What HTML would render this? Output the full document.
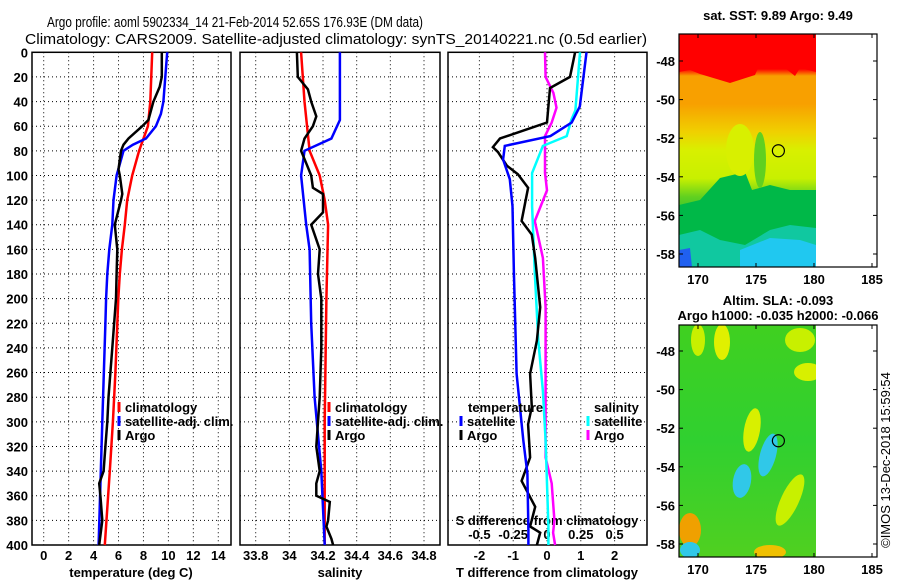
<!DOCTYPE html>
<html><head><meta charset="utf-8"><style>
body{margin:0;background:#fff}
svg{display:block;font-family:"Liberation Sans",Arial,sans-serif}
text{font-weight:bold;font-size:13px;fill:#000}
</style></head><body>
<svg id="fig" width="900" height="580" viewBox="0 0 900 580">
<text transform="translate(47,27) scale(0.8,1)" x="0" y="0" textLength="470" lengthAdjust="spacingAndGlyphs" style="font-weight:normal;font-size:15px">Argo profile: aoml 5902334_14 21-Feb-2014 52.65S 176.93E (DM data)</text>
<text x="25" y="44" textLength="622" lengthAdjust="spacingAndGlyphs" style="font-weight:normal;font-size:15px">Climatology: CARS2009. Satellite-adjusted climatology: synTS_20140221.nc (0.5d earlier)</text>
<g id="plots"></g>
<g id="maps"></g>
</svg>
<script>
// ---------- data ----------
const depthTicks=[0,20,40,60,80,100,120,140,160,180,200,220,240,260,280,300,320,340,360,380,400];
const tempTicks=[0,2,4,6,8,10,12,14];
const salTicks=[33.8,34,34.2,34.4,34.6,34.8];
const salTickLabels=["33.8","34","34.2","34.4","34.6","34.8"];
const tdTicks=[-2,-1,0,1,2];
const sdTicks=[-0.5,-0.25,0,0.25,0.5];
const sdTickLabels=["-0.5","-0.25","0","0.25","0.5"];

const argoTempDepth=[0,20,28,40,55,60,70,75,80,95,100,115,120,140,160,180,200,240,280,300,320,340,350,360,380,400];
const argoTemp=[9.47,9.47,9.3,8.8,8.4,7.9,6.8,6.4,6.2,6.0,6.1,6.3,6.2,5.7,5.9,5.85,5.8,5.5,5.2,5.1,4.95,4.8,4.45,4.55,4.7,4.45];
const climTempDepth=[0,40,60,80,100,120,140,160,180,200,260,300,340,400];
const climTemp=[8.7,8.55,8.36,7.65,7.1,6.7,6.5,6.27,6.1,5.98,5.75,5.55,5.3,4.9];
const satTempDepth=[0,40,50,60,70,75,80,100,120,140,160,180,200,220,300,400];
const satTemp=[9.9,9.6,9.4,9.0,8.2,7.15,6.4,5.85,5.6,5.5,5.26,5.1,5.0,4.95,4.7,4.4];

const argoSalDepth=[0,20,30,40,52,60,70,80,90,100,110,115,130,140,160,180,200,240,280,300,320,340,350,360,365,380,385,395,400];
const argoSal=[34.045,34.05,34.11,34.13,34.16,34.14,34.09,34.07,34.1,34.13,34.14,34.2,34.2,34.13,34.18,34.17,34.19,34.19,34.18,34.17,34.16,34.18,34.16,34.16,34.24,34.23,34.22,34.25,34.26];
const climSalDepth=[0,40,80,100,120,140,200,300,400];
const climSal=[34.07,34.09,34.12,34.18,34.21,34.23,34.22,34.21,34.21];
const satSalDepth=[0,55,70,80,100,140,160,220,280,340,400];
const satSal=[34.3,34.3,34.25,34.09,34.07,34.1,34.12,34.13,34.15,34.19,34.21];

const argoTdDepth=[0,20,29,57,70,77,81,92,99,110,137,148,167,207,234,261,288,302,329,348,369,385,390,400];
const argoTd=[0.83,0.68,0.09,0,-1.39,-1.6,-1.45,-1.19,-0.86,-0.56,-0.75,-0.45,-0.35,-0.2,-0.3,-0.5,-0.45,-0.56,-0.5,-0.75,-0.35,-0.5,-0.2,-0.3];
const satTdDepth=[0,44,57,68,76,87,103,125,179,261,315,342,388,400];
const satTd=[1.17,0.97,0.73,0.1,-1.25,-1.3,-1.1,-1.02,-0.98,-0.9,-0.7,-0.58,-0.55,-0.55];
const satSdDepth=[0,47,55,68,76,98,125,179,234,275,315,385,400];
const satSd=[0.244,0.21,0.18,0.146,-0.03,-0.11,-0.11,-0.09,-0.064,-0.03,-0.01,0.01,0.01];
const argoSdDepth=[0,20,33,45,57,68,98,112,137,167,207,261,329,350,380,390,400];
const argoSd=[-0.015,-0.01,0.047,0.07,0.035,-0.015,-0.015,0,-0.09,-0.03,-0.01,-0.01,-0.01,0.035,0.055,0.045,0.06];

// ---------- axes ----------
const Y0=52.3,Y1=545;
const yD=d=>Y0+(Y1-Y0)*d/400;
const xT=t=>43.7+12.47*t;
const xS=s=>255.7+(s-33.8)*168.3;
const xTd=t=>547+33.8*t;
const xSd=s=>547+135.2*s;
const NS="http://www.w3.org/2000/svg";
const G=document.getElementById('plots');
function mk(tag,attrs,parent){const e=document.createElementNS(NS,tag);for(const k in attrs)e.setAttribute(k,attrs[k]);(parent||G).appendChild(e);return e;}
function txt(x,y,s,anchor,parent){const t=mk('text',{x:x,y:y,'text-anchor':anchor||'middle'},parent);t.textContent=s;return t;}

const panels=[{x0:32,x1:231},{x0:240,x1:440},{x0:448,x1:647}];
panels.forEach((p,i)=>{
  const g=mk('g',{});
  
  
  depthTicks.forEach(d=>{if(d>0&&d<400){const l=mk('line',{x1:p.x0,x2:p.x1,y1:yD(d),y2:yD(d),stroke:'#000','stroke-dasharray':'1 3','stroke-width':1},g);
    
    }});
  let xs=[];
  if(i==0)xs=tempTicks.map(xT);else if(i==1)xs=salTicks.map(xS);else xs=tdTicks.map(xTd);
  xs.forEach(x=>{const l=mk('line',{x1:x,x2:x,y1:Y0,y2:Y1,stroke:'#000','stroke-dasharray':'1 3','stroke-width':1},g);
    
    });
  const r=mk('rect',{x:p.x0,y:Y0,width:p.x1-p.x0,height:Y1-Y0,fill:'none',stroke:'#000','stroke-width':1.5},g);
  
  
});
depthTicks.forEach(d=>{const t=txt(28,yD(d)+5,String(d),'end');
  
  });
tempTicks.forEach(v=>{const t=txt(xT(v),560,String(v));
  
  });
salTicks.forEach((v,i)=>{const t=txt(xS(v),560,salTickLabels[i]);
  
  });
tdTicks.forEach(v=>{const t=txt(xTd(v),560,String(v));
  
  });
sdTicks.forEach((v,i)=>{const t=txt(xSd(v),539,sdTickLabels[i]);
  
  });
let t;
t=txt(131,577,'temperature (deg C)');
t=txt(340,577,'salinity');
t=txt(547,577,'T difference from climatology');
t=txt(547,525,'S difference from climatology');

function series(depths,vals,xf,color,name){
  const pts=depths.map((d,i)=>xf(vals[i]).toFixed(1)+','+yD(d).toFixed(1)).join(' ');
  const p=mk('polyline',{points:pts,fill:'none',stroke:color,'stroke-width':2.5});
  
  
}
series(climTempDepth,climTemp,xT,'#f00','clim-temperature-line');
series(satTempDepth,satTemp,xT,'#00f','satadj-temperature-line');
series(argoTempDepth,argoTemp,xT,'#000','argo-temperature-line');
series(climSalDepth,climSal,xS,'#f00','clim-salinity-line');
series(satSalDepth,satSal,xS,'#00f','satadj-salinity-line');
series(argoSalDepth,argoSal,xS,'#000','argo-salinity-line');
series(argoSdDepth,argoSd,xSd,'#f0f','argo-sdiff-line');
series(satSdDepth,satSd,xSd,'#0ff','sat-sdiff-line');
series(argoTdDepth,argoTd,xTd,'#000','argo-tdiff-line');
series(satTdDepth,satTd,xTd,'#00f','sat-tdiff-line');

function legend(x,y,color,label,name){
  const l=mk('line',{x1:x,x2:x,y1:y-10,y2:y,stroke:color,'stroke-width':3});
  
  
  const t=txt(x+6,y,label,'start');
  
  
}
legend(119,412,'#f00','climatology','legend-climatology-temp');
legend(119,426,'#00f','satellite-adj. clim.','legend-satadj-temp');
legend(119,440,'#000','Argo','legend-argo-temp');
legend(329,412,'#f00','climatology','legend-climatology-sal');
legend(329,426,'#00f','satellite-adj. clim.','legend-satadj-sal');
legend(329,440,'#000','Argo','legend-argo-sal');
t=txt(468,412,'temperature','start');
legend(461,426,'#00f','satellite','legend-sat-tdiff');
legend(461,440,'#000','Argo','legend-argo-tdiff');
t=txt(594,412,'salinity','start');
legend(588,426,'#0ff','satellite','legend-sat-sdiff');
legend(588,440,'#f0f','Argo','legend-argo-sdiff');

// ---------- maps ----------
const M=document.getElementById('maps');
const lonTicks=[170,175,180,185];
const latTicks=[-48,-50,-52,-54,-56,-58];
const xLon=l=>698+(l-170)*11.6;
function map(top,bot,latTopY,name,title1,title2,shapes,grad){
  const g=mk('g',{},M);
  
  
  const yLat=la=>latTopY+(-48-la)*19.3;
  const gid=name+'-grad';
  const defs=mk('defs',{},g);
  const cp=mk('clipPath',{id:name+'-clip'},defs);
  mk('rect',{x:679,y:top,width:137,height:bot-top},cp);
  const lg=mk('linearGradient',{id:gid,x1:0,y1:0,x2:0,y2:1},defs);
  grad.forEach(s=>mk('stop',{offset:s[0],'stop-color':s[1]},lg));
  const bg=mk('rect',{x:679,y:top,width:137,height:bot-top,fill:'url(#'+gid+')'},g);
  
  
  const sg=mk('g',{'clip-path':'url(#'+name+'-clip)'},g);
  shapes.forEach(b=>{let e;
    if(b[0]=='p'){e=mk('polygon',{points:b[1],fill:b[2]},sg);}
    else{e=mk('ellipse',{cx:b[0],cy:b[1],rx:b[2],ry:b[3],fill:b[4],transform:'rotate('+(b[5]||0)+' '+b[0]+' '+b[1]+')'},sg);}
    
    });
  const fr=mk('rect',{x:679,y:top,width:198,height:bot-top,fill:'none',stroke:'#000','stroke-width':1.2},g);
  
  
  lonTicks.forEach(l=>{mk('line',{x1:xLon(l),x2:xLon(l),y1:top,y2:top+4,stroke:'#000'},g);mk('line',{x1:xLon(l),x2:xLon(l),y1:bot,y2:bot-4,stroke:'#000'},g);
    const t=txt(xLon(l),bot+17,String(l),'middle',g);});
  latTicks.forEach(la=>{mk('line',{x1:679,x2:683,y1:yLat(la),y2:yLat(la),stroke:'#000'},g);mk('line',{x1:877,x2:873,y1:yLat(la),y2:yLat(la),stroke:'#000'},g);
    const t=txt(675,yLat(la)+5,String(la),'end',g);});
  const c=mk('circle',{cx:xLon(176.93),cy:yLat(-52.65),r:6,fill:'none',stroke:'#000','stroke-width':1.2},g);
  
  
  if(title1){const t=txt(778,top-(title2?20:14),title1,'middle',g);}
  if(title2){const t=txt(778,top-5,title2,'middle',g);}
}
map(34,267,61,'sst-map','sat. SST: 9.89 Argo: 9.49',null,
 [['p','679,34 816,34 816,72 800,68 795,76 785,68 760,64 755,75 730,83 720,80 700,74 690,70 679,72','#f00'],
  ['p','679,205 700,200 720,178 745,172 752,190 770,185 790,190 816,190 816,267 679,267','#00b848'],
  ['p','679,235 700,230 720,240 745,245 770,230 790,225 816,228 816,267 679,267','#10c8a0'],
  ['p','740,250 770,238 800,240 816,245 816,267 740,267','#20c8f0'],
  ['p','679,250 690,248 692,267 679,267','#2060f0'],
  [760,160,6,28,'#60d020',0],[740,150,14,26,'#d8f000',0]],
 [[0,'#f00'],[0.15,'#f00'],[0.18,'#f8a000'],[0.3,'#f8a000'],[0.42,'#f0d000'],[0.5,'#d8f000'],[0.62,'#c8f000'],[0.7,'#60d020'],[0.85,'#00b848'],[1,'#10c8a0']]);
map(325,557,351,'sla-map','Altim. SLA: -0.093','Argo h1000: -0.035 h2000: -0.066',
 [[698,340,7,16,'#c8f000'],[722,342,8,18,'#e0f000'],[808,372,14,9,'#d8f000'],[752,430,8,22,'#d8f000',10],[790,500,9,28,'#c8f000',25],
  [768,455,8,22,'#30c8e8',15],[742,481,9,17,'#30c8e8',10],[690,530,11,17,'#f0a000'],[690,550,10,8,'#30c8e8'],[770,552,16,7,'#f0c000'],[800,340,15,12,'#c8f000']],
 [[0,'#40d020'],[0.5,'#30d030'],[1,'#50d020']]);
const ts=txt(0,0,'©IMOS 13-Dec-2018 15:59:54','middle',M);
ts.setAttribute('transform','translate(890,460) rotate(-90)');
ts.setAttribute('style','font-weight:normal;font-size:13px');


</script>
</body></html>
